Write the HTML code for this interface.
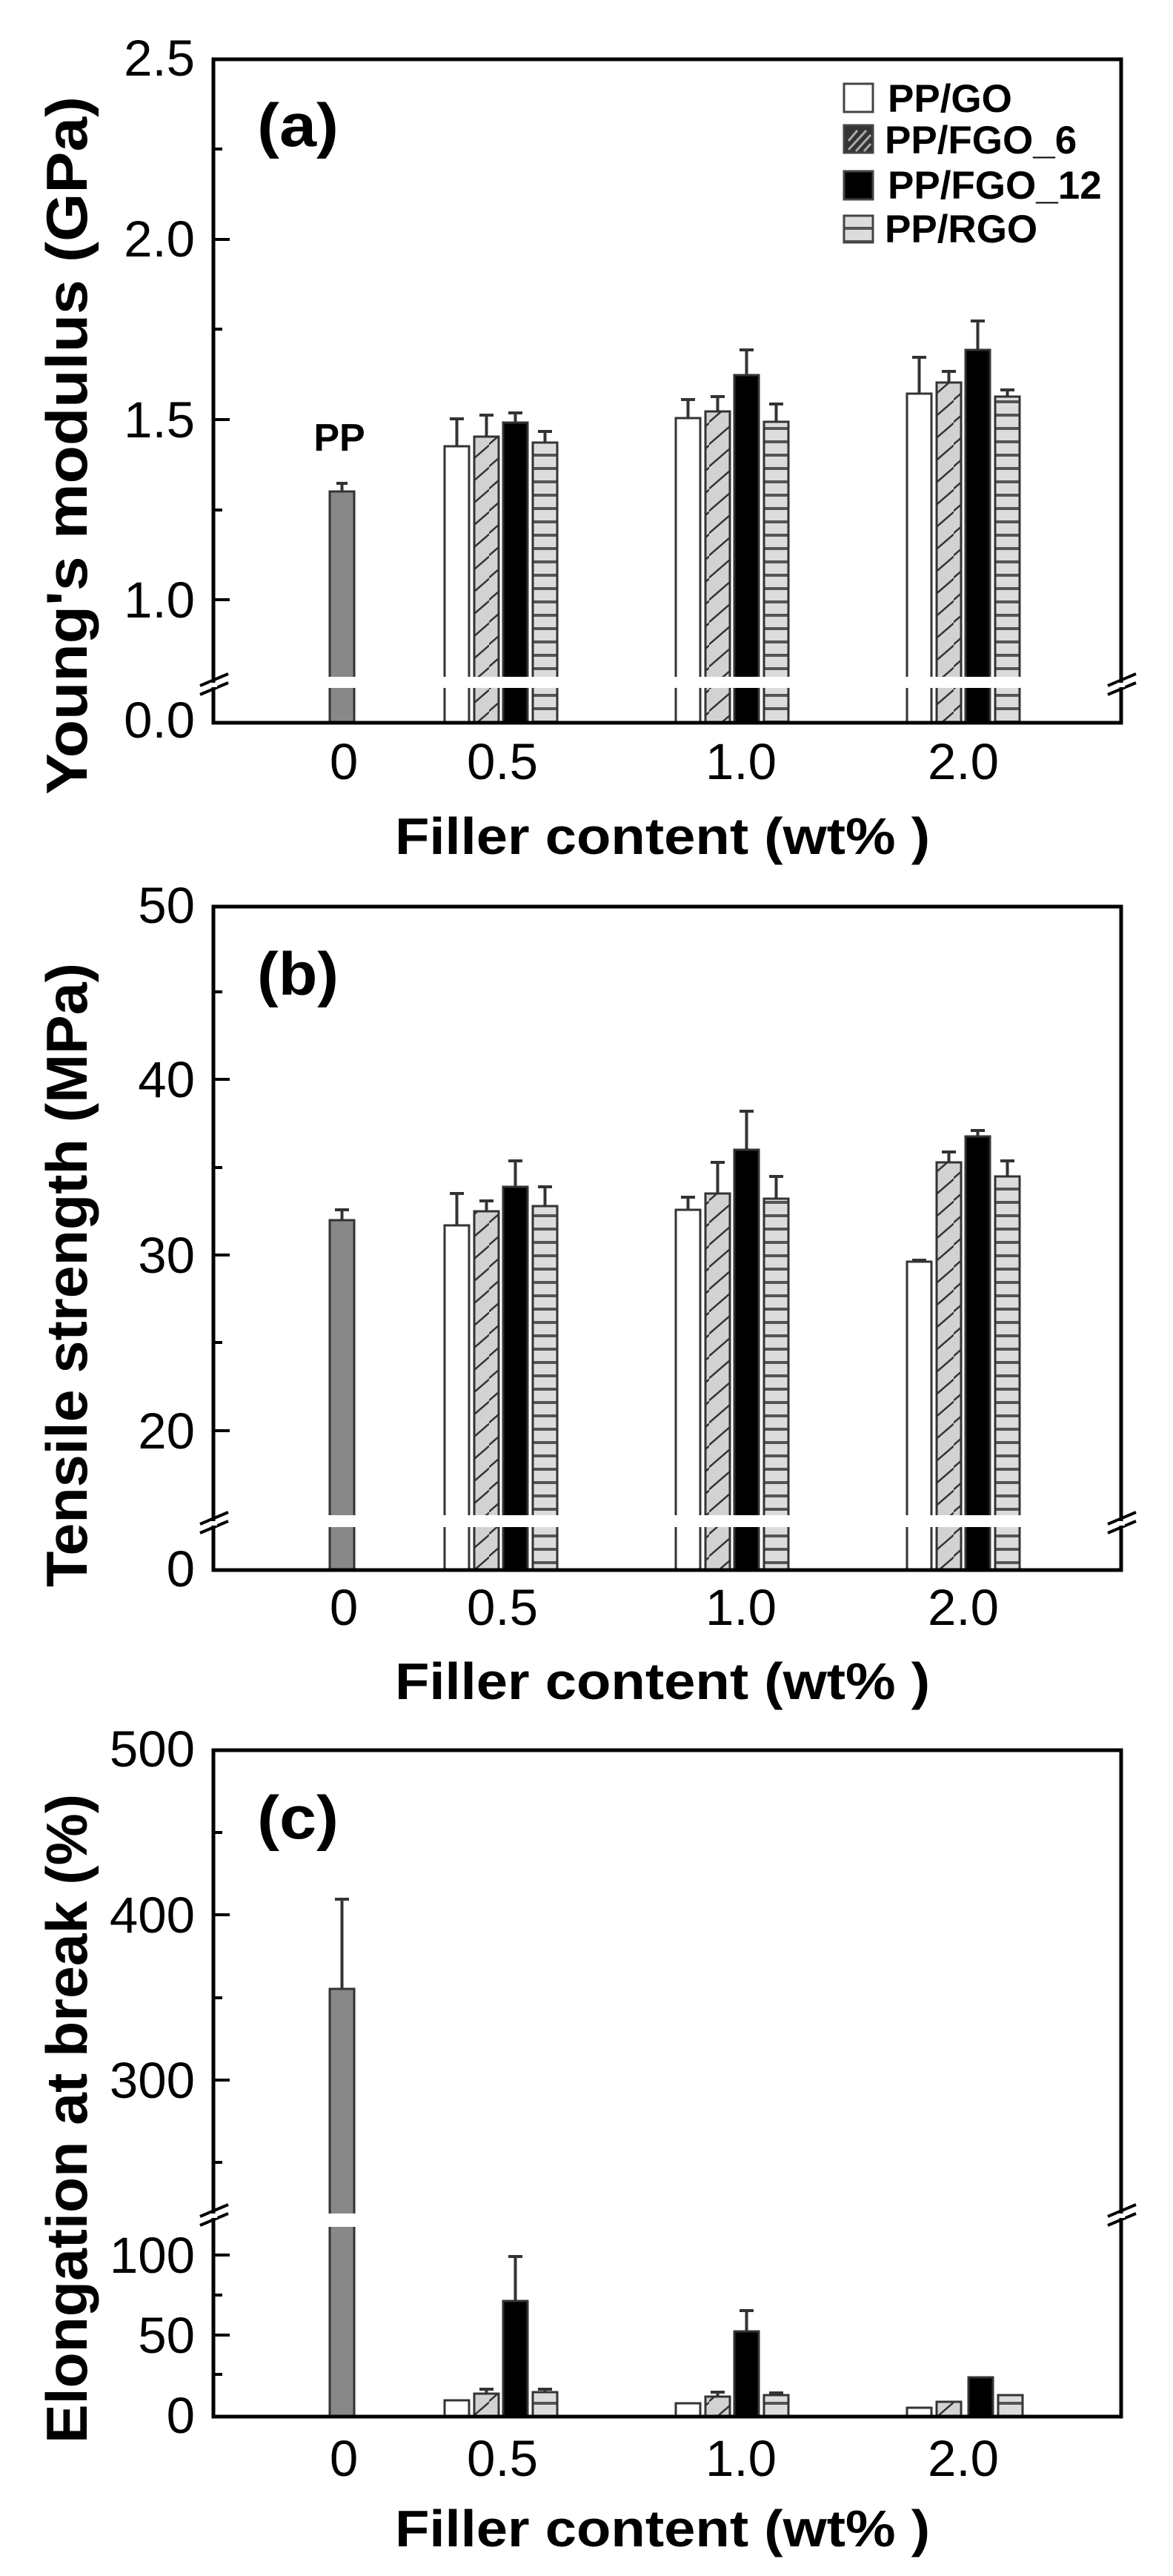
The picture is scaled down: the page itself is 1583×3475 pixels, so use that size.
<!DOCTYPE html>
<html><head><meta charset="utf-8"><style>html,body{margin:0;padding:0;background:#fff}svg{display:block}</style></head>
<body>
<svg width="1583" height="3475" viewBox="0 0 1583 3475" xmlns="http://www.w3.org/2000/svg" font-family="Liberation Sans, Arial, sans-serif">
<defs>
<pattern id="dg" patternUnits="userSpaceOnUse" width="33" height="30" x="0" y="0">
<rect width="33" height="30" fill="#d2d2d2"/>
<line x1="-2" y1="31" x2="35" y2="-1" stroke="#333" stroke-width="2.5"/>
</pattern>
<pattern id="hz" patternUnits="userSpaceOnUse" width="40" height="18">
<rect width="40" height="18" fill="#dcdcdc"/>
<rect y="0" width="40" height="4" fill="#555"/>
</pattern>
</defs>

<!-- ================= PANEL A ================= -->
<g>
<g stroke="#333" stroke-width="3">
<rect x="445" y="663" width="33" height="312" fill="#888"/>
<rect x="600" y="602" width="33" height="373" fill="#fff"/>
<rect x="640" y="589" width="33" height="386" fill="url(#dg)"/>
<rect x="679" y="570" width="33" height="405" fill="#000"/>
<rect x="719" y="597" width="33" height="378" fill="url(#hz)"/>
<rect x="912" y="564" width="33" height="411" fill="#fff"/>
<rect x="952" y="555" width="33" height="420" fill="url(#dg)"/>
<rect x="991" y="506" width="33" height="469" fill="#000"/>
<rect x="1031" y="569" width="33" height="406" fill="url(#hz)"/>
<rect x="1224" y="531" width="33" height="444" fill="#fff"/>
<rect x="1264" y="516" width="33" height="459" fill="url(#dg)"/>
<rect x="1303" y="472" width="33" height="503" fill="#000"/>
<rect x="1343" y="535" width="33" height="440" fill="url(#hz)"/>
</g>
<g stroke="#333" stroke-width="4">
<path d="M461.5 663V652M454 652h15"/>
<path d="M616.5 602V565M607 565h19"/>
<path d="M656.5 589V560M647 560h19"/>
<path d="M695.5 570V557M686 557h19"/>
<path d="M735.5 597V582M726 582h19"/>
<path d="M928.5 564V539M919 539h19"/>
<path d="M968.5 555V535M959 535h19"/>
<path d="M1007.5 506V472M998 472h19"/>
<path d="M1047.5 569V545M1038 545h19"/>
<path d="M1240.5 531V482M1231 482h19"/>
<path d="M1280.5 516V501M1271 501h19"/>
<path d="M1319.5 472V433M1310 433h19"/>
<path d="M1359.5 535V526M1350 526h19"/>
</g>
<rect x="420" y="913" width="980" height="15" fill="#fff"/>
<rect x="288" y="80" width="1225" height="895" fill="none" stroke="#000" stroke-width="5"/>
<g stroke="#000" stroke-width="4">
<path d="M288 323h22M288 566h22M288 809h22M288 201h12M288 444h12M288 688h12"/>
<path d="M270 925l38-16M270 937l38-16M1495 925l38-16M1495 937l38-16"/>
</g>
<rect x="283" y="921" width="10" height="6" fill="#fff"/><rect x="1508" y="921" width="10" height="6" fill="#fff"/>
<g font-size="69" text-anchor="end" fill="#000">
<text x="263" y="102">2.5</text><text x="263" y="346">2.0</text><text x="263" y="590">1.5</text><text x="263" y="833">1.0</text><text x="263" y="995">0.0</text>
</g>
<g font-size="69" text-anchor="middle">
<text x="464" y="1051">0</text><text x="678" y="1051">0.5</text><text x="1000" y="1051">1.0</text><text x="1300" y="1051">2.0</text>
</g>
<text x="533" y="1152" font-size="70" font-weight="bold" textLength="722" lengthAdjust="spacingAndGlyphs">Filler content (wt% )</text>
<text transform="translate(117,1072) rotate(-90)" font-size="78" font-weight="bold" textLength="942" lengthAdjust="spacingAndGlyphs">Young's modulus (GPa)</text>
<text x="347" y="197" font-size="82" font-weight="bold" textLength="110" lengthAdjust="spacingAndGlyphs">(a)</text>
<text x="458" y="608" font-size="52" font-weight="bold" text-anchor="middle">PP</text>
<!-- legend -->
<g stroke="#444" stroke-width="3">
<rect x="1139" y="113" width="39" height="38" fill="#fff"/>
<rect x="1139" y="169" width="39" height="37" fill="#333"/>
<rect x="1139" y="231" width="39" height="38" fill="#000"/>
<rect x="1139" y="291" width="39" height="36" fill="url(#hz)"/>
</g>
<g stroke="#aaa" stroke-width="3"><path d="M1145 190l12-14M1145 202l24-26M1155 204l20-22M1166 204l9-10"/></g>
<g font-size="53" font-weight="bold">
<text x="1198" y="151">PP/GO</text><text x="1194" y="207">PP/FGO_6</text><text x="1198" y="268">PP/FGO_12</text><text x="1194" y="327">PP/RGO</text>
</g>
</g>

<!-- ================= PANEL B ================= -->
<g>
<g stroke="#333" stroke-width="3">
<rect x="445" y="1646" width="33" height="472" fill="#888"/>
<rect x="600" y="1653" width="33" height="465" fill="#fff"/>
<rect x="640" y="1634" width="33" height="484" fill="url(#dg)"/>
<rect x="679" y="1601" width="33" height="517" fill="#000"/>
<rect x="719" y="1627" width="33" height="491" fill="url(#hz)"/>
<rect x="912" y="1632" width="33" height="486" fill="#fff"/>
<rect x="952" y="1610" width="33" height="508" fill="url(#dg)"/>
<rect x="991" y="1551" width="33" height="567" fill="#000"/>
<rect x="1031" y="1617" width="33" height="501" fill="url(#hz)"/>
<rect x="1224" y="1702" width="33" height="416" fill="#fff"/>
<rect x="1264" y="1568" width="33" height="550" fill="url(#dg)"/>
<rect x="1303" y="1533" width="33" height="585" fill="#000"/>
<rect x="1343" y="1587" width="33" height="531" fill="url(#hz)"/>
</g>
<g stroke="#333" stroke-width="4">
<path d="M461.5 1646V1632M452 1632h19"/>
<path d="M616.5 1653V1610M607 1610h19"/>
<path d="M656.5 1634V1620M647 1620h19"/>
<path d="M695.5 1601V1566M686 1566h19"/>
<path d="M735.5 1627V1601M726 1601h19"/>
<path d="M928.5 1632V1615M919 1615h19"/>
<path d="M968.5 1610V1568M959 1568h19"/>
<path d="M1007.5 1551V1499M998 1499h19"/>
<path d="M1047.5 1617V1587M1038 1587h19"/>
<path d="M1240.5 1702V1700M1231 1700h19"/>
<path d="M1280.5 1568V1554M1271 1554h19"/>
<path d="M1319.5 1533V1525M1310 1525h19"/>
<path d="M1359.5 1587V1566M1350 1566h19"/>
</g>
<rect x="420" y="2044" width="980" height="16" fill="#fff"/>
<rect x="288" y="1223" width="1225" height="895" fill="none" stroke="#000" stroke-width="5"/>
<g stroke="#000" stroke-width="4">
<path d="M288 1456h22M288 1693h22M288 1930h22M288 1338h12M288 1575h12M288 1811h12"/>
<path d="M270 2056l38-16M270 2068l38-16M1495 2056l38-16M1495 2068l38-16"/>
</g>
<rect x="283" y="2052" width="10" height="6" fill="#fff"/><rect x="1508" y="2052" width="10" height="6" fill="#fff"/>
<g font-size="69" text-anchor="end">
<text x="263" y="1245">50</text><text x="263" y="1480">40</text><text x="263" y="1717">30</text><text x="263" y="1954">20</text><text x="263" y="2140">0</text>
</g>
<g font-size="69" text-anchor="middle">
<text x="464" y="2192">0</text><text x="678" y="2192">0.5</text><text x="1000" y="2192">1.0</text><text x="1300" y="2192">2.0</text>
</g>
<text x="533" y="2292" font-size="70" font-weight="bold" textLength="722" lengthAdjust="spacingAndGlyphs">Filler content (wt% )</text>
<text transform="translate(117,2141) rotate(-90)" font-size="78" font-weight="bold" textLength="842" lengthAdjust="spacingAndGlyphs">Tensile strength (MPa)</text>
<text x="347" y="1342" font-size="82" font-weight="bold" textLength="110" lengthAdjust="spacingAndGlyphs">(b)</text>
</g>

<!-- ================= PANEL C ================= -->
<g>
<g stroke="#333" stroke-width="3">
<rect x="445" y="2683" width="33" height="577" fill="#888"/>
<rect x="600" y="3238" width="33" height="22" fill="#fff"/>
<rect x="640" y="3229" width="33" height="31" fill="url(#dg)"/>
<rect x="679" y="3104" width="33" height="156" fill="#000"/>
<rect x="719" y="3227" width="33" height="33" fill="url(#hz)"/>
<rect x="912" y="3242" width="33" height="18" fill="#fff"/>
<rect x="952" y="3233" width="33" height="27" fill="url(#dg)"/>
<rect x="991" y="3145" width="33" height="115" fill="#000"/>
<rect x="1031" y="3231" width="33" height="29" fill="url(#hz)"/>
<rect x="1224" y="3248" width="33" height="12" fill="#fff"/>
<rect x="1264" y="3240" width="33" height="20" fill="url(#dg)"/>
<rect x="1307" y="3207" width="33" height="53" fill="#000"/>
<rect x="1347" y="3231" width="33" height="29" fill="url(#hz)"/>
</g>
<g stroke="#333" stroke-width="4">
<path d="M461.5 2683V2562M452 2562h19"/>
<path d="M656.5 3229V3223M647 3223h19"/>
<path d="M695.5 3104V3044M686 3044h19"/>
<path d="M735.5 3227V3223M726 3223h19"/>
<path d="M968.5 3233V3227M959 3227h19"/>
<path d="M1007.5 3145V3117M998 3117h19"/>
<path d="M1047.5 3231V3228M1038 3228h19"/>
</g>
<rect x="420" y="2986" width="80" height="18" fill="#fff"/>
<rect x="288" y="2361" width="1225" height="899" fill="none" stroke="#000" stroke-width="5"/>
<g stroke="#000" stroke-width="4">
<path d="M288 2583h22M288 2806h22M288 3042h22M288 3150h22M288 2472h12M288 2695h12M288 2917h12M288 3096h12M288 3203h12"/>
<path d="M270 2990l38-16M270 3002l38-16M1495 2990l38-16M1495 3002l38-16"/>
</g>
<rect x="283" y="2986" width="10" height="6" fill="#fff"/><rect x="1508" y="2986" width="10" height="6" fill="#fff"/>
<g font-size="69" text-anchor="end">
<text x="263" y="2383">500</text><text x="263" y="2607">400</text><text x="263" y="2830">300</text><text x="263" y="3066">100</text><text x="263" y="3174">50</text><text x="263" y="3282">0</text>
</g>
<g font-size="69" text-anchor="middle">
<text x="464" y="3340">0</text><text x="678" y="3340">0.5</text><text x="1000" y="3340">1.0</text><text x="1300" y="3340">2.0</text>
</g>
<text x="533" y="3435" font-size="70" font-weight="bold" textLength="722" lengthAdjust="spacingAndGlyphs">Filler content (wt% )</text>
<text transform="translate(117,3296) rotate(-90)" font-size="78" font-weight="bold" textLength="876" lengthAdjust="spacingAndGlyphs">Elongation at break (%)</text>
<text x="347" y="2480" font-size="82" font-weight="bold" textLength="110" lengthAdjust="spacingAndGlyphs">(c)</text>
</g>
</svg>
</body></html>
